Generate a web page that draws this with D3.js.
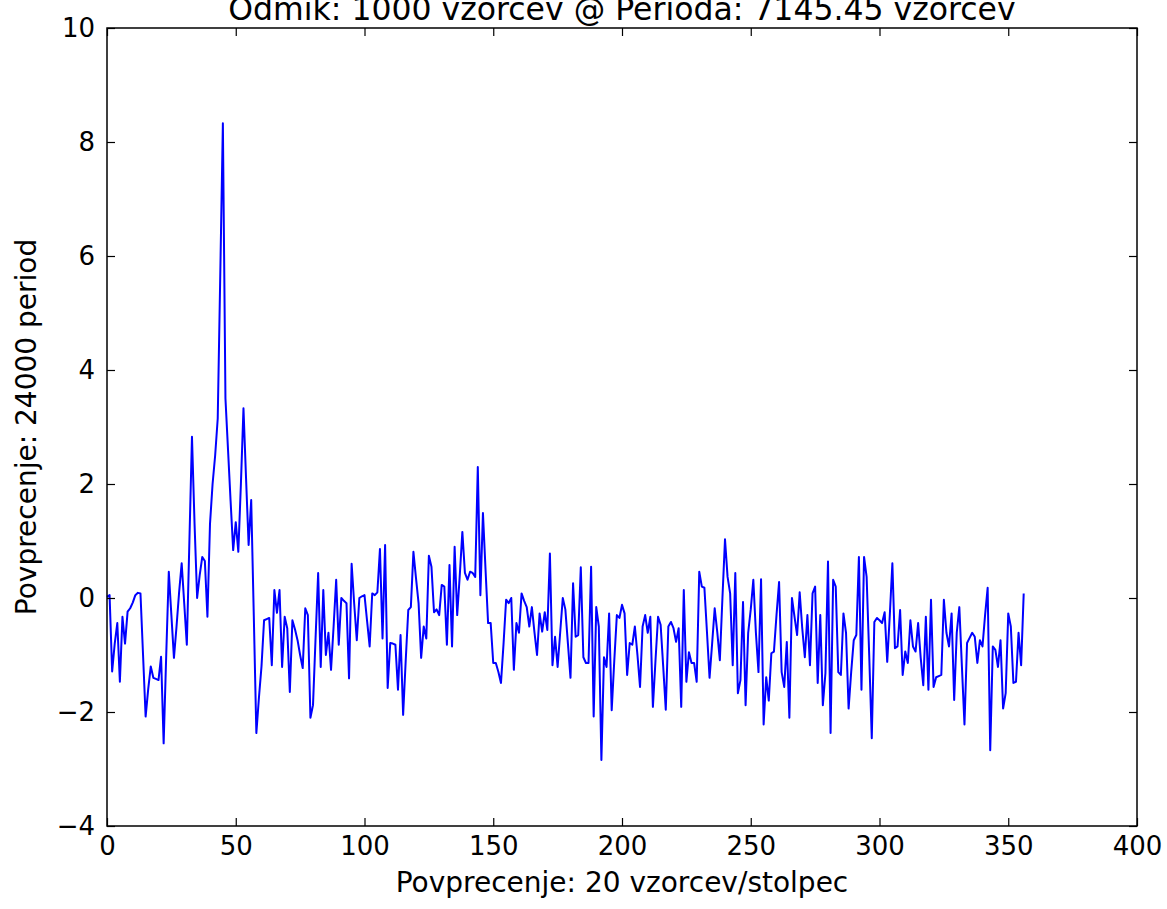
<!DOCTYPE html>
<html>
<head>
<meta charset="utf-8">
<script src="https://cdn.jsdelivr.net/npm/d3@7"></script>
<style>
  body { margin: 0; background: #fff; }
  svg { display: block; }
  .tick text { font-family: "DejaVu Sans", sans-serif; fill: #000; }
  .lbl { font-family: "DejaVu Sans", sans-serif; font-size: 28px; fill: #000; }
</style>
</head>
<body>
<div id="chart"></div>
<script>
// vrednosti odcitane s slike (en stolpec = 20 vzorcev)
var values = [
  0.02, 0.05, -1.29, -0.8, -0.44, -1.47, -0.33, -0.8, -0.24, -0.18,
  -0.08, 0.05, 0.09, 0.08, -1.0, -2.08, -1.6, -1.2, -1.4, -1.42,
  -1.44, -1.03, -2.55, -1.0, 0.46, -0.3, -1.05, -0.5, 0.1, 0.61,
  -0.1, -0.82, 1.0, 2.83, 1.3, 0.0, 0.4, 0.72, 0.65, -0.33,
  1.3, 2.0, 2.5, 3.15, 5.7, 8.33, 3.5, 2.6, 1.7, 0.84,
  1.33, 0.81, 2.0, 3.33, 2.1, 0.93, 1.72, -0.3, -2.37, -1.75,
  -1.2, -0.39, -0.37, -0.35, -1.18, 0.14, -0.26, 0.14, -1.21, -0.33,
  -0.53, -1.65, -0.39, -0.55, -0.74, -1.0, -1.23, -0.18, -0.3, -2.1,
  -1.88, -0.7, 0.44, -1.21, 0.14, -1.0, -0.61, -1.26, -0.5, 0.32,
  -0.82, 0.0, -0.05, -0.09, -1.41, 0.6, -0.1, -0.74, 0.0, 0.03,
  0.05, -0.4, -0.85, 0.08, 0.05, 0.1, 0.86, -0.71, 0.93, -1.58,
  -0.79, -0.8, -0.82, -1.61, -0.65, -2.05, -1.1, -0.21, -0.16, 0.81,
  0.35, -0.09, -1.05, -0.5, -0.71, 0.74, 0.55, -0.25, -0.2, -0.3,
  0.23, 0.2, -0.82, 0.58, -0.85, 0.9, -0.3, 0.4, 1.16, 0.44,
  0.32, 0.46, 0.44, 0.37, 2.3, 0.05, 1.49, 0.5, -0.44, -0.44,
  -1.14, -1.14, -1.3, -1.49, -0.8, -0.03, -0.09, 0.0, -1.26, -0.44,
  -0.61, 0.08, -0.05, -0.16, -0.5, -0.16, -0.6, -1.0, -0.27, -0.59,
  -0.25, -0.56, 0.78, -1.18, -0.68, -1.21, -0.6, 0.0, -0.2, -0.8,
  -1.4, 0.26, -0.68, -0.65, 0.54, -1.04, -1.14, -1.14, 0.55, -2.08,
  -0.16, -0.5, -2.84, -1.04, -1.21, -0.27, -1.97, -1.1, -0.3, -0.35,
  -0.12, -0.27, -1.35, -0.79, -0.82, -0.5, -1.0, -1.56, -0.5, -0.3,
  -0.61, -0.33, -1.91, -1.1, -0.33, -0.47, -1.2, -1.96, -0.5, -0.42,
  -0.53, -0.77, -0.53, -1.91, 0.14, -1.47, -0.95, -1.14, -1.14, -1.47,
  0.46, 0.2, 0.18, -0.6, -1.4, -0.8, -0.18, -0.6, -1.09, 0.0,
  1.03, 0.37, 0.08, -1.18, 0.44, -1.67, -1.44, -0.07, -1.88, -0.61,
  -0.2, 0.32, -0.61, -1.3, 0.33, -2.22, -1.39, -1.8, -0.97, -0.94,
  -0.3, 0.28, -1.3, -1.56, -0.77, -2.1, 0.0, -0.33, -0.65, 0.1,
  -0.53, -1.04, -0.3, -1.18, 0.08, 0.2, -1.49, -0.3, -1.88, -1.32,
  0.64, -2.37, 0.32, 0.2, -1.3, -1.35, -0.27, -0.61, -1.94, -1.3,
  -0.74, -0.65, 0.72, -1.61, 0.72, 0.37, -1.0, -2.46, -0.42, -0.35,
  -0.39, -0.44, -0.25, -1.12, -0.3, 0.61, -0.88, -0.85, -0.21, -1.35,
  -0.94, -1.14, -0.39, -0.85, -0.94, -0.44, -1.05, -1.53, -0.33, -1.61,
  -0.03, -1.56, -1.39, -1.37, -1.35, -0.03, -0.61, -0.85, -0.27, -1.79,
  -0.61, -0.16, -1.2, -2.22, -0.79, -0.7, -0.61, -0.68, -1.14, -0.74,
  -0.85, -0.3, 0.18, -2.67, -0.85, -0.91, -1.21, -0.74, -1.94, -1.67,
  -0.27, -0.5, -1.49, -1.47, -0.61, -1.18, 0.08
]
var xTicks = [0, 50, 100, 150, 200, 250, 300, 350, 400]
var yTicks = [-4, -2, 0, 2, 4, 6, 8, 10]

var title = "Odmik: 1000 vzorcev @ Perioda: 7145.45 vzorcev"
var xLabel = "Povprecenje: 20 vzorcev/stolpec"
var yLabel = "Povprecenje: 24000 period"

var width = 1167, height = 909
// robovi risalne povrsine (window.top je rezerviran, zato druga imena)
var plotL = 107, plotR = 1137, plotT = 28, plotB = 826

var svg = d3.select("#chart").append("svg")
    .attr("width", width)
    .attr("height", height)

var x = d3.scaleLinear().domain([0, 400]).range([plotL, plotR])
var y = d3.scaleLinear().domain([-4, 10]).range([plotB, plotT])

// crta
var line = d3.line()
    .x(function(d, i) { return x(i) })
    .y(function(d) { return y(d) })

svg.append("path")
    .datum(values)
    .attr("fill", "none")
    .attr("stroke", "#0000ff")
    .attr("stroke-width", 2)
    .attr("stroke-linejoin", "round")
    .attr("d", line)

// osi - kljukice navznoter kot v matplotlib classic
function styleAxis(g) {
  g.select(".domain").remove()
  g.selectAll(".tick line").attr("stroke", "#000").attr("stroke-width", 1.2)
}

svg.append("g")
    .attr("transform", "translate(0," + plotB + ")")
    .call(d3.axisBottom(x).tickValues(xTicks).tickSize(-8).tickPadding(11).tickFormat(d3.format("d")))
    .call(styleAxis)

svg.append("g")
    .attr("transform", "translate(0," + plotT + ")")
    .call(d3.axisTop(x).tickValues(xTicks).tickSize(-8).tickFormat(""))
    .call(styleAxis)

svg.append("g")
    .attr("transform", "translate(" + plotL + ",0)")
    .call(d3.axisLeft(y).tickValues(yTicks).tickSize(-8).tickPadding(12).tickFormat(function(d) { return d < 0 ? "\u2212" + (-d) : d }))
    .call(styleAxis)

svg.append("g")
    .attr("transform", "translate(" + plotR + ",0)")
    .call(d3.axisRight(y).tickValues(yTicks).tickSize(-8).tickFormat(""))
    .call(styleAxis)

svg.selectAll(".tick text").style("font-size", "26px")

// okvir
svg.append("rect")
    .attr("x", plotL).attr("y", plotT)
    .attr("width", plotR - plotL).attr("height", plotB - plotT)
    .attr("fill", "none")
    .attr("stroke", "#000")
    .attr("stroke-width", 1.5)

svg.append("text")
    .attr("class", "lbl")
    .attr("x", (plotL + plotR) / 2).attr("y", 20)
    .attr("text-anchor", "middle")
    .style("font-size", "31.5px")
    .text(title)

svg.append("text")
    .attr("class", "lbl")
    .attr("x", (plotL + plotR) / 2).attr("y", 892)
    .attr("text-anchor", "middle")
    .text(xLabel)

svg.append("text")
    .attr("class", "lbl")
    .attr("transform", "translate(36," + (plotT + plotB) / 2 + ") rotate(-90)")
    .attr("text-anchor", "middle")
    .text(yLabel)
</script>
</body>
</html>
